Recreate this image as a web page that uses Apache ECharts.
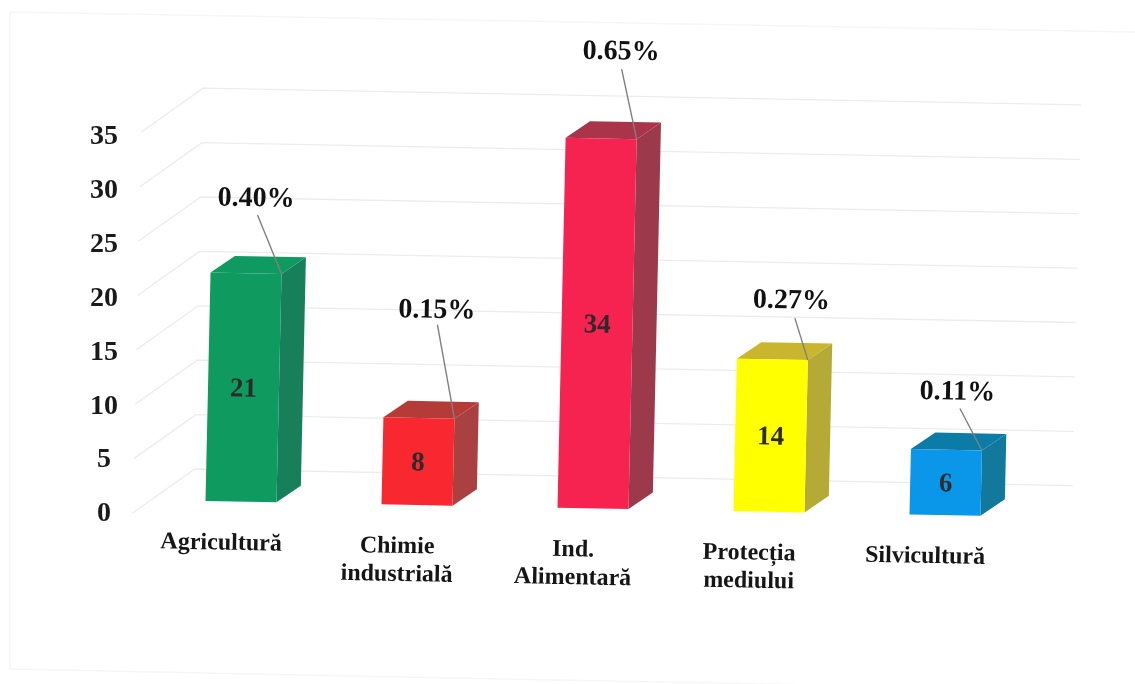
<!DOCTYPE html>
<html><head><meta charset="utf-8">
<style>html,body{margin:0;padding:0;background:#fff}#c{width:1135px;height:684px}</style>
<script src="https://cdn.jsdelivr.net/npm/echarts@6/dist/echarts.min.js"></script>
</head><body><div id="c"></div>
<script>
const categories = ['Agricultură','Chimie\nindustrială','Ind.\nAlimentară','Protecția\nmediului','Silvicultură'];
const counts = [21, 8, 34, 14, 6];
const shares = ['0.40%','0.15%','0.65%','0.27%','0.11%'];
const yTicks = [0,5,10,15,20,25,30,35];

// Look of the scanned 3D bars (layout and colour only)
const faceColors = ['#0f9b60','#f9272f','#f6224f','#ffff00','#0a97ea'];
const topColors  = ['#0f9a62','#b53b39','#aa3449','#c9b62e','#0b7ca6'];
const sideColors = ['#17805a','#a8413f','#9c3a4c','#b5aa35','#12799d'];
const labelOffsets  = [[-25,-77],[-17,-110],[-15,-89],[-16,-61],[-24,-60]];
const leaderOffsets = [[-24,-59],[-17,-94],[-15,-70],[-13,-42],[-22,-42]];

const SERIF = '"Liberation Serif", serif';
const SKEW_X = 0.022, SKEW_Y = 0.019, ORIGIN_X = 205, ORIGIN_Y = 501, TILT = -0.019;
const BAR_W = 71, DEPTH_X = 24, DEPTH_Y = -17, DEPTH_SCALE = 1.01, TEXT_NUDGE = 2;
const T = (x, y) => [x + (ORIGIN_Y - y) * SKEW_X, y + (x - ORIGIN_X) * SKEW_Y];
const poly = (pts, fill) => ({type:'polygon', shape:{points:pts.map(p=>T(p[0],p[1]))}, style:{fill}});

function renderGrid(params, api){
  const cs = params.coordSys;
  const c0 = api.coord([0,0])[1], c = api.coord([0,api.value(1)])[1];
  const dy = (c0 - c) * DEPTH_SCALE;
  const pts = [[cs.x-20, 514.4-dy],[cs.x+41, 469.2-dy],[cs.x+919, 469.2-dy]].map(p=>T(p[0],p[1]));
  return {type:'polyline', shape:{points:pts}, style:{fill:'none', stroke:'#ebeded', lineWidth:1.3}};
}
function renderBar(params, api){
  const i = api.value(0), v = api.value(1);
  const cx = api.coord([i,0])[0], c0 = api.coord([i,0])[1], c = api.coord([i,v])[1];
  const h = (c0 - c) * DEPTH_SCALE;
  const l = cx - BAR_W/2, r = cx + BAR_W/2, b = ORIGIN_Y, t = b - h;
  const p = T(cx, (b+t)/2 + TEXT_NUDGE);
  const corner = T(r,t);
  const lo = labelOffsets[i], le = leaderOffsets[i];
  return {type:'group', children:[
    poly([[r,b],[r+DEPTH_X,b+DEPTH_Y],[r+DEPTH_X,t+DEPTH_Y],[r,t]], sideColors[i]),
    poly([[l,t],[l+DEPTH_X,t+DEPTH_Y],[r+DEPTH_X,t+DEPTH_Y],[r,t]], topColors[i]),
    poly([[l,b],[r,b],[r,t],[l,t]], faceColors[i]),
    {type:'text', x:p[0], y:p[1], rotation:TILT,
      style:{text:String(v), fill:'#2b2b2b', font:'bold 27px '+SERIF, align:'center', verticalAlign:'middle'}},
    {type:'line', shape:{x1:corner[0]+le[0], y1:corner[1]+le[1], x2:corner[0], y2:corner[1]},
      style:{stroke:'#808080', lineWidth:1.4}},
    {type:'text', x:corner[0]+lo[0]-0.5, y:corner[1]+lo[1]+TEXT_NUDGE, rotation:TILT,
      style:{text:shares[i], fill:'#111', font:'bold 28px '+SERIF, align:'center', verticalAlign:'middle'}}
  ]};
}
function renderCat(params, api){
  const i = api.value(0), c = api.coord([i,0]);
  const p = T(c[0]-19, c[1]+15);
  return {type:'text', x:p[0], y:p[1], rotation:TILT,
    style:{text:categories[i], fill:'#161616', font:'bold 24px '+SERIF, lineHeight:28, align:'center', verticalAlign:'top'}};
}
const chart = echarts.init(document.getElementById('c'), null, {renderer:'canvas'});
chart.setOption({
  backgroundColor:'#ffffff',
  animation:false,
  grid:{left:153, top:137, width:880, height:377, containLabel:false},
  xAxis:{type:'category', data:categories, axisLine:{show:false}, axisTick:{show:false}, axisLabel:{show:false}, splitLine:{show:false}},
  yAxis:{type:'value', min:0, max:35, interval:5, axisLine:{show:false}, axisTick:{show:false}, splitLine:{show:false},
    axisLabel:{margin:49, align:'center', color:'#1a1a1a', fontFamily:SERIF, fontWeight:'bold', fontSize:28,
      formatter:v=>yTicks.includes(v)?String(v):''}},
  graphic:[
    {type:'polyline', silent:true, shape:{points:[[1135,32],[10,12],[10,669],[400,677],[1135,691]]},
     style:{fill:'none', stroke:'#f6f6f6', lineWidth:1.4}}
  ],
  series:[
    {type:'custom', name:'grid', silent:true, renderItem:renderGrid, encode:{x:0,y:1}, data:yTicks.map(v=>[0,v]), z:1},
    {type:'custom', name:'counts', silent:true, renderItem:renderBar, encode:{x:0,y:1}, data:counts.map((v,i)=>[i,v]), z:3},
    {type:'custom', name:'categories', silent:true, renderItem:renderCat, encode:{x:0,y:1}, data:categories.map((_,i)=>[i,0]), z:3}
  ]
});
</script></body></html>
